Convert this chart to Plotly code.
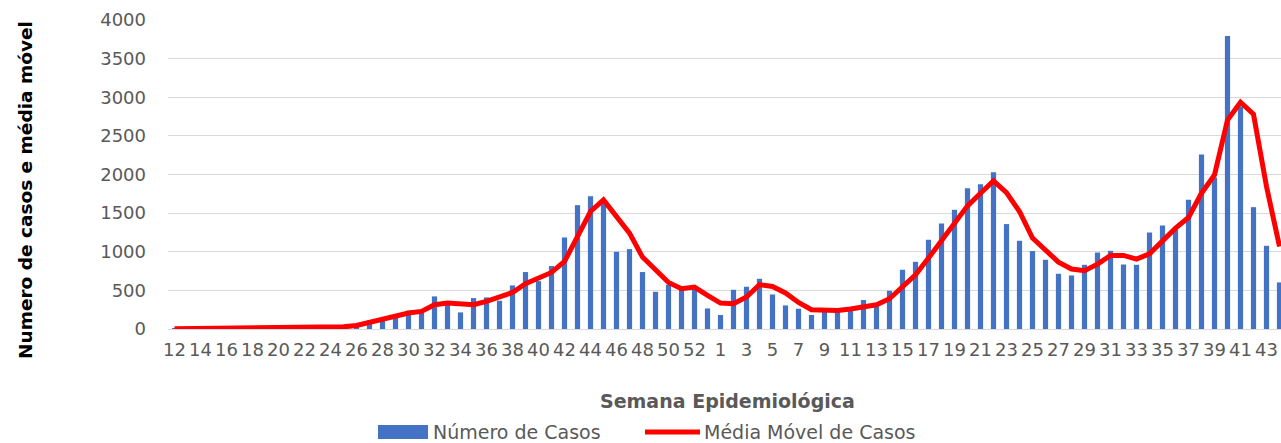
import plotly.graph_objects as go

# Semanas epidemiológicas: 2020 (12-53) e 2021 (1-44)
semanas_2020 = [12, 13, 14, 15, 16, 17, 18, 19, 20, 21, 22, 23, 24, 25, 26, 27, 28, 29, 30, 31, 32,
                33, 34, 35, 36, 37, 38, 39, 40, 41, 42, 43, 44, 45, 46, 47, 48, 49, 50, 51, 52, 53]
semanas_2021 = [1, 2, 3, 4, 5, 6, 7, 8, 9, 10, 11, 12, 13, 14, 15, 16, 17, 18, 19, 20, 21, 22,
                23, 24, 25, 26, 27, 28, 29, 30, 31, 32, 33, 34, 35, 36, 37, 38, 39, 40, 41, 42, 43, 44]

casos_2020 = [2, 3, 5, 8, 10, 6, 8, 10, 12, 14, 12, 18, 22, 30, 45, 111, 120, 150, 237, 220, 422,
              314, 215, 400, 409, 366, 564, 737, 620, 815, 1185, 1603, 1720, 1640, 1000, 1034, 737,
              482, 573, 520, 540, 266]
casos_2021 = [181, 508, 547, 650, 447, 305, 262, 181, 230, 250, 260, 375, 310, 495, 767, 870, 1155,
              1366, 1543, 1823, 1875, 2030, 1358, 1142, 1009, 896, 715, 693, 831, 990, 1012, 835,
              831, 1249, 1340, 1290, 1672, 2258, 1960, 3793, 2880, 1577, 1077, 603]

media_2020 = [3, 4, 5, 6, 6, 6, 7, 8, 9, 10, 12, 15, 18, 28, 45, 85, 120, 163, 207, 228, 314,
              336, 327, 314, 357, 422, 473, 586, 659, 732, 874, 1197, 1521, 1672, 1465, 1241, 931,
              758, 603, 521, 543, 434]
media_2021 = [336, 327, 414, 573, 551, 466, 344, 250, 241, 241, 259, 292, 314, 392, 543, 702, 918,
              1146, 1371, 1594, 1758, 1917, 1766, 1521, 1177, 1016, 866, 776, 754, 840, 952, 952,
              905, 974, 1146, 1306, 1443, 1758, 1995, 2706, 2935, 2780, 1844, 1068]

# categorias únicas (ano-semana) e rótulos só com o número da semana
categorias = [f"2020-{s}" for s in semanas_2020] + [f"2021-{s}" for s in semanas_2021]
rotulos = [str(s) for s in semanas_2020] + [str(s) for s in semanas_2021]
casos = casos_2020 + casos_2021
media = media_2020 + media_2021

FONTE = "DejaVu Sans"
CINZA = "#595959"
AZUL = "#4472C4"
VERMELHO = "#FF0000"

# área do gráfico na tela (pixels); a margem do body é zerada no html
X0, X1, Y0, Y1 = 168, 1281, 20, 329
plot_w = X1 - X0
plot_h = Y1 - Y0


def px_x(x):
    return (x - X0) / plot_w


def px_y(y):
    return (Y1 - y) / plot_h


fig = go.Figure()

fig.add_trace(go.Bar(
    x=categorias, y=casos,
    name="Número de Casos",
    marker=dict(color=AZUL, line=dict(width=0)),
))

fig.add_trace(go.Scatter(
    x=categorias, y=media,
    name="Média Móvel de Casos",
    mode="lines",
    line=dict(color=VERMELHO, width=5),
))

fig.update_layout(
    width=1281, height=443,
    margin=dict(l=X0, r=0, t=Y0, b=443 - Y1, autoexpand=False),
    paper_bgcolor="white", plot_bgcolor="white",
    font=dict(family=FONTE, size=18, color=CINZA),
    bargap=0.6,
    showlegend=False,
)

fig.update_xaxes(
    type="category",
    range=[-0.5, -0.5 + plot_w / 13.0],
    tickmode="array",
    tickvals=categorias[::2],
    ticktext=rotulos[::2],
    tickangle=0,
    ticks="outside", ticklen=4, tickcolor="rgba(0,0,0,0)",
    showgrid=False, showline=False, zeroline=False,
    tickfont=dict(size=18, color=CINZA),
)

fig.update_yaxes(
    range=[0, 4000],
    tickvals=[0, 500, 1000, 1500, 2000, 2500, 3000, 3500, 4000],
    showgrid=True, gridcolor="#D9D9D9", gridwidth=1,
    zeroline=True, zerolinecolor="#D9D9D9", zerolinewidth=1,
    showline=False,
    ticklabelstandoff=21,
    tickfont=dict(size=18, color=CINZA),
)

fig.add_annotation(
    text="<b>Semana Epidemiológica</b>",
    xref="paper", yref="paper", x=px_x(727), y=px_y(401), xanchor="center", yanchor="middle",
    showarrow=False, font=dict(family=FONTE, size=19, color=CINZA),
)
fig.add_annotation(
    text="<b>Numero de casos e média móvel</b>",
    xref="paper", yref="paper", x=px_x(25), y=px_y(190),
    xanchor="center", yanchor="middle", textangle=-90,
    showarrow=False, font=dict(family=FONTE, size=18.5, color="black"),
)

# legenda desenhada à mão (retângulo largo como no Excel)
fig.add_shape(type="rect", xref="paper", yref="paper",
              x0=px_x(378), x1=px_x(428), y0=px_y(439), y1=px_y(425),
              fillcolor=AZUL, line=dict(width=0))
fig.add_annotation(text="Número de Casos", xref="paper", yref="paper",
                   x=px_x(431), y=px_y(432), xanchor="left", yanchor="middle",
                   showarrow=False, font=dict(family=FONTE, size=19, color=CINZA))
fig.add_shape(type="line", xref="paper", yref="paper",
              x0=px_x(645), x1=px_x(700), y0=px_y(432), y1=px_y(432),
              line=dict(color=VERMELHO, width=5))
fig.add_annotation(text="Média Móvel de Casos", xref="paper", yref="paper",
                   x=px_x(702), y=px_y(432), xanchor="left", yanchor="middle",
                   showarrow=False, font=dict(family=FONTE, size=19, color=CINZA))

# sem margem no body e sem barra de rolagem: a figura ocupa a janela inteira
fig.write_html("out.html",
               config={"displayModeBar": False},
               post_script="document.body.style.margin = '0'; document.body.style.overflow = 'hidden';")
